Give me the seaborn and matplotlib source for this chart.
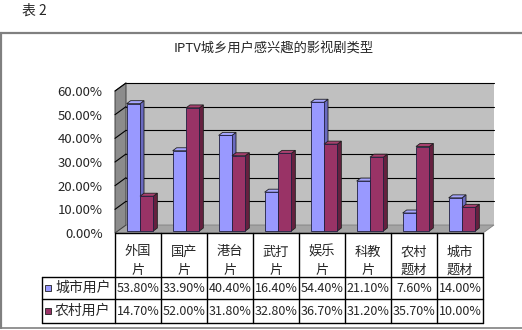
import numpy as np
import pandas as pd
import matplotlib
matplotlib.use("Agg")
import matplotlib.pyplot as plt
from matplotlib.patches import Polygon, Rectangle
from matplotlib.lines import Line2D
import seaborn as sns

categories = ["外国\n片", "国产\n片", "港台\n片", "武打\n片", "娱乐\n片", "科教\n片", "农村\n题材", "城市\n题材"]
series_names = ["城市用户", "农村用户"]
city_values = [53.8, 33.9, 40.4, 16.4, 54.4, 21.1, 7.6, 14.0]
rural_values = [14.7, 52.0, 31.8, 32.8, 36.7, 31.2, 35.7, 10.0]
y_ticks = [0, 10, 20, 30, 40, 50, 60]
title = "IPTV城乡用户感兴趣的影视剧类型"
caption = "表 2"

sns.set_style("white")
plt.rcParams['font.family'] = ['Noto Sans CJK SC', 'DejaVu Sans']

W, H = 522, 330
fig = plt.figure(figsize=(W / 100, H / 100), dpi=100)
fig.patch.set_facecolor("white")

def fx(x):
    return x / W

def fy(y):
    return 1 - y / H

# plot area (front plane) in pixels
L, R, T, B = 115, 483, 91, 233
ax = fig.add_axes([fx(L), fy(B), (R - L) / W, (B - T) / H])
ax.set_xlim(-0.5, len(categories) - 0.5)
ax.set_ylim(0, 60)
ax.patch.set_alpha(0)
for s in ax.spines.values():
    s.set_visible(False)

pxx = (R - L) / len(categories)      # px per category unit
pxy = (B - T) / 60.0                 # px per percent
dxw, dyw = 11 / pxx, 8 / pxy         # wall depth
bdx, bdy = 2 / pxx, 2 / pxy          # bar front offset
tdx, tdy = 4 / pxx, 3 / pxy          # bar thickness

x0, x1 = -0.5, len(categories) - 0.5
# back wall
ax.add_patch(Polygon([(x0 + dxw, dyw), (x1 + dxw, dyw), (x1 + dxw, 60 + dyw), (x0 + dxw, 60 + dyw)],
                     closed=True, fc="#C0C0C0", ec="none", clip_on=False, zorder=0))
# floor
ax.add_patch(Polygon([(x0, 0), (x1, 0), (x1 + dxw, dyw), (x0 + dxw, dyw)],
                     closed=True, fc="#A4A4A4", ec="#808080", lw=0.6, clip_on=False, zorder=0.5))
# left wall
ax.add_patch(Polygon([(x0, 0), (x0 + dxw, dyw), (x0 + dxw, 60 + dyw), (x0, 60)],
                     closed=True, fc="#8C8C8C", ec="#404040", lw=0.7, clip_on=False, zorder=0.5))
# grid lines
for v in y_ticks[1:]:
    ax.add_line(Line2D([x0 + dxw, x1 + dxw], [v + dyw, v + dyw], color="black", lw=0.8, clip_on=False, zorder=0.6))
    ax.add_line(Line2D([x0, x0 + dxw], [v, v + dyw], color="black", lw=0.8, clip_on=False, zorder=0.6))

# bars (front faces) via seaborn
df = pd.DataFrame({
    "cat": categories * 2,
    "series": [series_names[0]] * len(categories) + [series_names[1]] * len(categories),
    "val": city_values + rural_values,
})
fronts = ["#9999FF", "#993366"]
sides = ["#6A6AC0", "#66203F"]
tops = ["#A6A6FF", "#A8406F"]
sns.barplot(data=df, x="cat", y="val", hue="series", hue_order=series_names, order=categories,
            palette=fronts, width=0.58, ax=ax, legend=False, errorbar=None,
            edgecolor="#202040", linewidth=0.6, saturation=1)
ax.set_xlim(-0.5, len(categories) - 0.5)
ax.set_ylim(0, 60)

bars = [p for p in ax.patches if isinstance(p, Rectangle) and p.get_width() > 0 and p.get_width() < 1]
bars.sort(key=lambda p: p.get_x())
for i, p in enumerate(bars):
    col = 0 if p.get_facecolor()[2] > 0.7 else 1
    p.set_x(p.get_x() + bdx)
    p.set_y(bdy)
    p.set_clip_on(False)
    z = 2 + i * 0.1
    p.set_zorder(z + 0.05)
    bx0 = p.get_x(); bx1 = bx0 + p.get_width()
    by0 = bdy; by1 = bdy + p.get_height()
    ec = "#202020"
    ax.add_patch(Polygon([(bx1, by0), (bx1 + tdx, by0 + tdy), (bx1 + tdx, by1 + tdy), (bx1, by1)],
                         closed=True, fc=sides[col], ec=ec, lw=0.6, clip_on=False, zorder=z))
    ax.add_patch(Polygon([(bx0, by1), (bx1, by1), (bx1 + tdx, by1 + tdy), (bx0 + tdx, by1 + tdy)],
                         closed=True, fc=tops[col], ec=ec, lw=0.6, clip_on=False, zorder=z))

ax.set_xticks([])
ax.set_yticks(y_ticks)
ax.set_yticklabels([f"{v:.2f}%" for v in y_ticks], fontsize=9.5)
ax.tick_params(axis="y", length=0, pad=9)
ax.set_xlabel("")
ax.set_ylabel("")

# front floor edge / axis line
fig.add_artist(Line2D([fx(L), fx(R)], [fy(B), fy(B)], color="black", lw=1.0))

# data table
col_x = [L + i * pxx for i in range(len(categories) + 1)]
hdr_bot, r1_bot, r2_bot = 277, 299, 323
leg_left = 42
for xx in col_x:
    fig.add_artist(Line2D([fx(xx), fx(xx)], [fy(B), fy(r2_bot)], color="black", lw=1.0))
fig.add_artist(Line2D([fx(leg_left), fx(leg_left)], [fy(hdr_bot), fy(r2_bot)], color="black", lw=1.0))
for yy in [hdr_bot, r1_bot, r2_bot]:
    fig.add_artist(Line2D([fx(leg_left), fx(R)], [fy(yy), fy(yy)], color="black", lw=1.0))

for i, c in enumerate(categories):
    cx = (col_x[i] + col_x[i + 1]) / 2
    a, b = c.split("\n")
    fig.text(fx(cx), fy(252), a, ha="center", va="center", fontsize=9.5)
    fig.text(fx(cx), fy(270), b, ha="center", va="center", fontsize=9.5)
    fig.text(fx(cx), fy(288.5), f"{city_values[i]:.2f}%", ha="center", va="center", fontsize=9)
    fig.text(fx(cx), fy(311.5), f"{rural_values[i]:.2f}%", ha="center", va="center", fontsize=9)

for j, (name, yc) in enumerate(zip(series_names, [288, 311])):
    fig.add_artist(Rectangle((fx(45), fy(yc + 3)), 6 / W, 6 / H, transform=fig.transFigure,
                             fc=fronts[j], ec="#202020", lw=0.6))
    fig.text(fx(55), fy(yc), name, ha="left", va="center", fontsize=10)

# title and caption
fig.text(fx(274), fy(48), title, ha="center", va="center", fontsize=9.5)
fig.text(fx(22), fy(11), caption, ha="left", va="center", fontsize=10)

# outer frame
fig.add_artist(Line2D([0, 1], [fy(33), fy(33)], color="#808080", lw=1.6))
fig.add_artist(Line2D([fx(1), fx(1)], [fy(33), fy(328)], color="#808080", lw=1.6))
fig.add_artist(Line2D([0, 1], [fy(328), fy(328)], color="#808080", lw=1.2))

fig.savefig("out.png", dpi=100)
